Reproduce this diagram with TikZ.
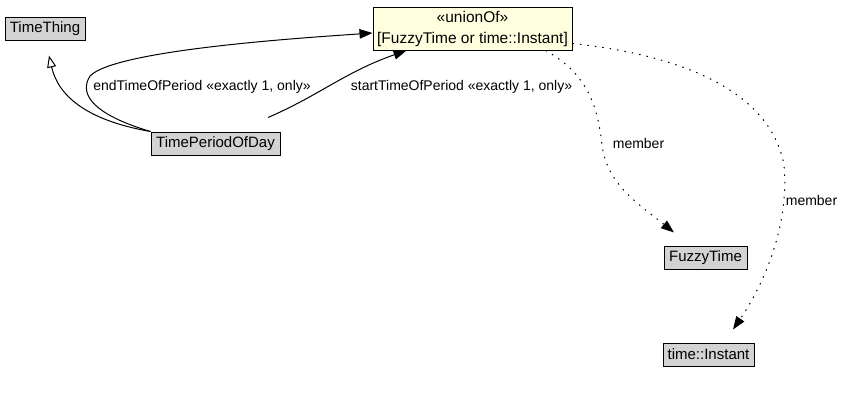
\documentclass[tikz,border=0pt]{standalone}
\usepackage{fontspec}
\setmainfont{Liberation Sans}
\usepackage{tikz}
\usetikzlibrary{arrows.meta,calc}
\definecolor{classfill}{HTML}{D3D3D3}
\definecolor{unionfill}{HTML}{FFFFE0}

\begin{document}
\begin{tikzpicture}[x=1pt,y=-1pt,line width=1pt,
  cls/.style={draw,fill=classfill,minimum height=23pt,inner sep=2pt,font=\fontsize{15}{17}\selectfont},
  lbl/.style={font=\fontsize{14}{16}\selectfont},
  rel/.style={-{Triangle[length=13pt,width=9.5pt]}},
  isa/.style={-{Triangle[open,length=12pt,width=9pt]}},
  mem/.style={rel,dash pattern=on 1.5pt off 6pt}]
  \useasboundingbox (0,0) rectangle (844,405);
  % classes
  \node[cls,minimum width=80pt] (thing) at (45,28.5) {TimeThing};
  \node[cls,minimum width=129pt] (period) at (215.5,143.5) {TimePeriodOfDay};
  \node[cls,minimum width=83pt] (fuzzy) at (705.5,257.5) {FuzzyTime};
  \node[cls,minimum width=91pt] (instant) at (708.5,354.5) {time::Instant};
  % union class
  \node[draw,fill=unionfill,minimum width=199pt,minimum height=43pt,inner sep=1pt,
    align=center,font=\fontsize{15.5}{21}\selectfont] (union) at (472.5,28.5)
    {«unionOf»\\{[}FuzzyTime or time::Instant{]}};
  % subclass
  \draw[isa] (period.north west) .. controls (85,120) and (58,95) .. ([shift={(4,15)}]thing.south);
  % properties
  \draw[rel] (period.north west) .. controls (95,115) and (78,95) .. (90,76)
    .. controls (115,50) and (300,38) .. ([yshift=-4.5pt]union.west);
  \draw[rel] ([shift={(52.5,-14)}]period.north) .. controls (320,95) and (345,72) .. ([xshift=-66pt]union.south);
  \node[lbl] (endlbl) at (202,87) {endTimeOfPeriod «exactly 1, only»};
  \node[lbl] (startlbl) at (461.5,87) {startTimeOfPeriod «exactly 1, only»};
  % members
  \draw[mem] ([xshift=73pt]union.south) .. controls (590,75) and (598,110) .. (602,145)
    .. controls (607,185) and (640,205) .. ([shift={(-31.5,-13)}]fuzzy.north);
  \draw[mem] ([yshift=-15pt]union.east) .. controls (680,55) and (770,90) .. (784,165)
    .. controls (790,230) and (760,290) .. ([shift={(24.5,-13)}]instant.north);
  \node[lbl,anchor=west] (mem1) at (609,143) {member};
  \node[lbl,anchor=west] (mem2) at (782,200) {member};
\end{tikzpicture}
\end{document}
